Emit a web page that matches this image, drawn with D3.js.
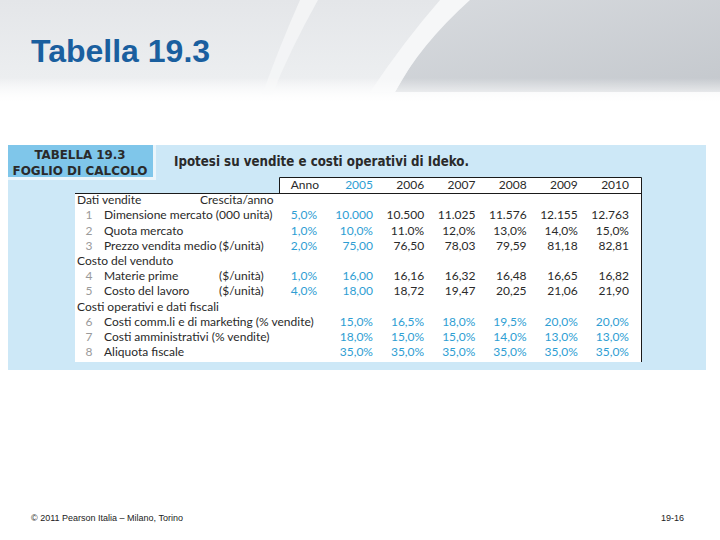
<!DOCTYPE html>
<html><head><meta charset="utf-8">
<script src="https://cdn.jsdelivr.net/npm/d3@7/dist/d3.min.js"></script>
<style>html,body{margin:0;padding:0;background:#fff}svg{display:block}</style>
</head><body>
<script>
// ---- data ----
const years = ["2005","2006","2007","2008","2009","2010"];
const sections = ["Dati vendite","Costo del venduto","Costi operativi e dati fiscali"];
const rowNumbers = ["1","2","3","4","5","6","7","8"];
const rowLabels = ["Dimensione mercato (000 unità)","Quota mercato","Prezzo vendita medio","Materie prime","Costo del lavoro","Costi comm.li e di marketing (% vendite)","Costi amministrativi  (% vendite)","Aliquota fiscale"];
const rowUnits = ["","","($/unità)","($/unità)","($/unità)","","",""];
const growth = ["5,0%","1,0%","2,0%","1,0%","4,0%","","",""];
const marketSize = ["10.000","10.500","11.025","11.576","12.155","12.763"];
const marketShare = ["10,0%","11.0%","12,0%","13,0%","14,0%","15,0%"];
const avgPrice = ["75,00","76,50","78,03","79,59","81,18","82,81"];
const rawMaterials = ["16,00","16,16","16,32","16,48","16,65","16,82"];
const laborCost = ["18,00","18,72","19,47","20,25","21,06","21,90"];
const salesMarketing = ["15,0%","16,5%","18,0%","19,5%","20,0%","20,0%"];
const adminCosts = ["18,0%","15,0%","15,0%","14,0%","13,0%","13,0%"];
const taxRate = ["35,0%","35,0%","35,0%","35,0%","35,0%","35,0%"];
const rowValues = [marketSize, marketShare, avgPrice, rawMaterials, laborCost, salesMarketing, adminCosts, taxRate];

const W = 720, H = 540;
const TEAL = "#2e9ed3", DARK = "#2a2a2a";
const svg = d3.select("body").append("svg").attr("width", W).attr("height", H);
const defs = svg.append("defs");

// ---- slide background ----
const g1 = defs.append("linearGradient").attr("id","topfade").attr("x1",0).attr("y1",0).attr("x2",0).attr("y2",1);
g1.append("stop").attr("offset","0%").attr("stop-color","#e4e6e9");
g1.append("stop").attr("offset","70%").attr("stop-color","#eceef0");
g1.append("stop").attr("offset","100%").attr("stop-color","#ffffff");
svg.append("rect").attr("x",0).attr("y",0).attr("width",W).attr("height",110).attr("fill","url(#topfade)");
const g2 = defs.append("linearGradient").attr("id","greyR").attr("x1",0).attr("y1",0).attr("x2",1).attr("y2",1);
g2.append("stop").attr("offset","0%").attr("stop-color","#d8dbdf");
g2.append("stop").attr("offset","100%").attr("stop-color","#c4c8cd");
svg.append("path").attr("d","M450,0 L720,0 L720,92 L395,92 Z").attr("fill","url(#greyR)");
svg.append("path").attr("d","M440,0 L470,0 Q420,45 395,92 L370,92 Q405,40 440,0 Z").attr("fill","#f6f7f8");
svg.append("path").attr("d","M300,0 L318,0 Q290,50 272,95 L262,95 Q280,45 300,0 Z").attr("fill","#f4f5f6").attr("opacity",0.9);
const g3 = defs.append("linearGradient").attr("id","fadeOut").attr("x1",0).attr("y1",0).attr("x2",0).attr("y2",1);
g3.append("stop").attr("offset","0%").attr("stop-color","#fff").attr("stop-opacity",0);
g3.append("stop").attr("offset","100%").attr("stop-color","#fff").attr("stop-opacity",1);
svg.append("rect").attr("x",0).attr("y",78).attr("width",W).attr("height",24).attr("fill","url(#fadeOut)");
svg.append("rect").attr("x",0).attr("y",102).attr("width",W).attr("height",10).attr("fill","#fff");

svg.append("text").attr("x",31).attr("y",62).text("Tabella 19.3")
  .attr("font-family","Liberation Sans, Arial, sans-serif").attr("font-weight","bold")
  .attr("font-size",32).attr("fill","#1a5f9f");

// ---- table panel ----
svg.append("rect").attr("x",8).attr("y",145).attr("width",698).attr("height",225).attr("fill","#cde8f7");
svg.append("rect").attr("x",8).attr("y",145).attr("width",148).attr("height",35).attr("fill","#eaf5fb");
svg.append("rect").attr("x",8).attr("y",145).attr("width",145).attr("height",32).attr("fill","#7fc6ea");
const hdrFont = "DejaVu Sans Condensed, DejaVu Sans, sans-serif";
svg.append("text").attr("x",80).attr("y",159).attr("text-anchor","middle").text("TABELLA 19.3")
  .attr("font-family",hdrFont).attr("font-weight","bold").attr("font-size",13).attr("fill","#2a2a2a")
  .attr("textLength",91).attr("lengthAdjust","spacingAndGlyphs");
svg.append("text").attr("x",80).attr("y",175).attr("text-anchor","middle").text("FOGLIO DI CALCOLO")
  .attr("font-family",hdrFont).attr("font-weight","bold").attr("font-size",13).attr("fill","#2a2a2a")
  .attr("textLength",135).attr("lengthAdjust","spacingAndGlyphs");
svg.append("text").attr("x",174).attr("y",166).text("Ipotesi su vendite e costi operativi di Ideko.")
  .attr("font-family",hdrFont).attr("font-weight","bold").attr("font-size",14).attr("fill","#2a2a2a")
  .attr("textLength",295).attr("lengthAdjust","spacingAndGlyphs");

// white table body and rules
svg.append("rect").attr("x",75).attr("y",193).attr("width",566).attr("height",169).attr("fill","#fff");
svg.append("rect").attr("x",279).attr("y",177.5).attr("width",362).attr("height",15.5).attr("fill","#fff");
svg.append("path").attr("d","M279.5,193 L279.5,177.5 L641.5,177.5 L641.5,362 M75,193.5 L641.5,193.5")
  .attr("fill","none").attr("stroke","#1a1a1a").attr("stroke-width",1);

// ---- scales ----
const colX = d3.scalePoint().domain(years).range([373, 629]);
const growthX = 317;
const lineY = d3.scalePoint().domain(d3.range(11)).range([200, 352]);
const bodyFont = "Lato, Noto Sans, sans-serif";
const fs = 12;

// header row
svg.append("text").attr("x",growthX+2).attr("y",185).attr("dy","0.35em").attr("text-anchor","end")
  .text("Anno").attr("font-family",bodyFont).attr("font-size",fs).attr("fill",DARK);
svg.selectAll("text.yr").data(years).join("text").attr("class","yr")
  .attr("x",d=>colX(d)).attr("y",185).attr("dy","0.35em").attr("text-anchor","end")
  .attr("font-family",bodyFont).attr("font-size",fs).attr("fill",(d,i)=>i===0?TEAL:DARK).text(d=>d);

// line index assignment: section headers and rows
const sectionLines = [0,4,7];
const rowLines = [1,2,3,5,6,8,9,10];

svg.selectAll("text.sec").data(sections).join("text").attr("class","sec")
  .attr("x",77).attr("y",(d,i)=>lineY(sectionLines[i])).attr("dy","0.35em")
  .attr("font-family",bodyFont).attr("font-size",fs).attr("fill",DARK).text(d=>d);
svg.append("text").attr("x",200).attr("y",lineY(0)).attr("dy","0.35em").text("Crescita/anno")
  .attr("font-family",bodyFont).attr("font-size",fs).attr("fill",DARK);

const rows = rowLabels.map((l,i)=>({num:rowNumbers[i],label:l,unit:rowUnits[i],growth:growth[i],vals:rowValues[i],line:rowLines[i],teal:i>=5}));
const rg = svg.selectAll("g.row").data(rows).join("g").attr("class","row")
  .attr("transform",d=>`translate(0,${lineY(d.line)})`)
  .attr("font-family",bodyFont).attr("font-size",fs);
rg.append("text").attr("x",89).attr("dy","0.35em").attr("text-anchor","middle").attr("fill","#9a9a9a").text(d=>d.num);
rg.append("text").attr("x",104).attr("dy","0.35em").attr("fill",DARK).text(d=>d.label);
rg.append("text").attr("x",219).attr("dy","0.35em").attr("fill",DARK).text(d=>d.unit);
rg.append("text").attr("x",growthX).attr("dy","0.35em").attr("text-anchor","end").attr("fill",TEAL).text(d=>d.growth);
rg.selectAll("text.v").data(d=>d.vals.map((v,j)=>({v,year:years[j],teal:d.teal||j===0}))).join("text").attr("class","v")
  .attr("x",d=>colX(d.year)).attr("dy","0.35em").attr("text-anchor","end")
  .attr("fill",d=>d.teal?TEAL:DARK).text(d=>d.v);

// ---- footer ----
svg.append("text").attr("x",31).attr("y",521).text("© 2011 Pearson Italia – Milano, Torino")
  .attr("font-family","Liberation Sans, Arial, sans-serif").attr("font-size",9).attr("fill","#222");
svg.append("text").attr("x",684).attr("y",521).attr("text-anchor","end").text("19-16")
  .attr("font-family","Liberation Sans, Arial, sans-serif").attr("font-size",9).attr("fill","#222");
</script>
</body></html>
